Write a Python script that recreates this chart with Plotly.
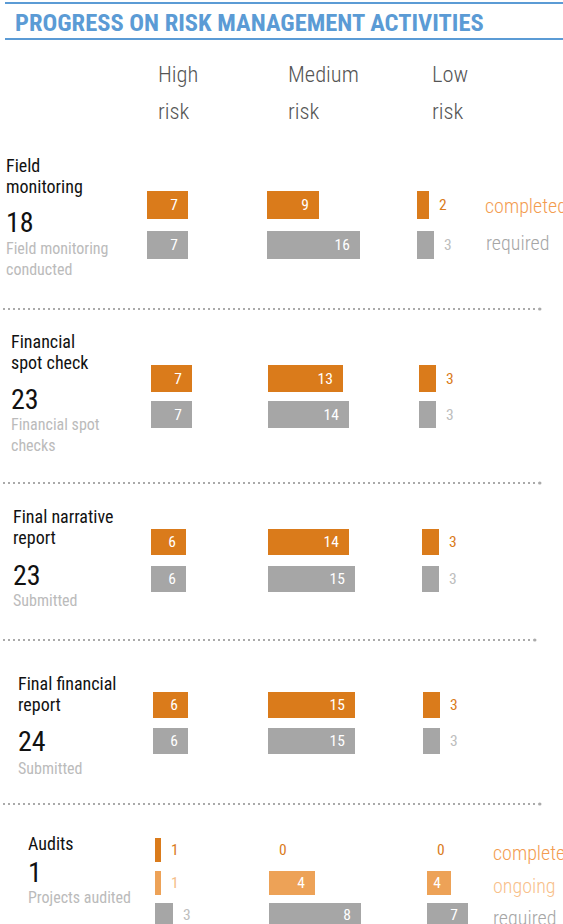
import plotly.graph_objects as go

W, H = 563, 924

# ---- data ----
ACTIVITIES = ["Field<br>monitoring", "Financial<br>spot check", "Final narrative<br>report",
              "Final financial<br>report", "Audits"]
TOTALS = [18, 23, 23, 24, 1]
SUBTITLES = ["Field monitoring<br>conducted", "Financial spot<br>checks", "Submitted",
             "Submitted", "Projects audited"]
RISK_HEADERS = ["High<br>risk", "Medium<br>risk", "Low<br>risk"]
COMPLETED = [[7, 9, 2], [7, 13, 3], [6, 14, 3], [6, 15, 3], [1, 0, 0]]
ONGOING = [None, None, None, None, [1, 4, 4]]
REQUIRED = [[7, 16, 3], [7, 14, 3], [6, 15, 3], [6, 15, 3], [3, 8, 7]]

# ---- layout (pixels) ----
ROW_Y = [[205, 245], [378, 414], [541, 578], [705, 741], [850, 883, 915]]
BAR_H = [28, 27, 26, 26, 24]
COL_LEFT = [[147, 267, 417], [151, 268, 419], [151, 268, 422], [153, 268, 423], [155, 269, 427]]
PX_PER_UNIT = [[5.8, 5.8, 5.8]] * 4 + [[6.0, 11.5, 5.9]]
LABEL_X = [4, 9, 11, 16, 26]
TITLE_Y = [165, 341, 516, 683, 843]
NUM_Y = [222, 399, 575, 741, 872]
SUB_Y = [249, 425, 600, 768, 897]
SEP_Y = [309, 483, 640, 804]
SEP_END = [540, 540, 535, 540]

FONT = "Roboto Condensed, Liberation Sans Narrow, Roboto, sans-serif"
ORANGE = "#DA7B1B"
LIGHT_ORANGE = "#EDA257"
GREY = "#A6A6A6"
BLUE = "#5B9BD5"
NB = "\u00a0"


def px(x):
    return x / W


def py(y):
    return 1 - y / H


fig = go.Figure()
annotations = []
shapes = []


def note(text, x, y, size, color, weight=400, anchor="left"):
    annotations.append(dict(
        text=text, x=px(x), y=py(y), xref="paper", yref="paper",
        xanchor=anchor, yanchor="middle", showarrow=False,
        font=dict(family=FONT, size=size, color=color, weight=weight),
    ))


# title + blue rules
note("PROGRESS ON RISK MANAGEMENT ACTIVITIES", 13, 23, 24.5, BLUE, weight=700)
for yy in (3, 39):
    shapes.append(dict(type="line", xref="paper", yref="paper",
                       x0=px(5), x1=1, y0=py(yy), y1=py(yy),
                       line=dict(color=BLUE, width=2)))

# column headers
for hdr, x in zip(RISK_HEADERS, [156, 286, 430]):
    for i, line in enumerate(hdr.split("<br>")):
        note(line, x, 74 + 37 * i, 22.5, "#555555", weight=300)

layout_axes = {}
ax = 0
for s in range(5):
    rows = ["completed", "required"] if ONGOING[s] is None else ["completed", "ongoing", "required"]
    series = [COMPLETED[s], REQUIRED[s]] if ONGOING[s] is None else [COMPLETED[s], ONGOING[s], REQUIRED[s]]
    colors = [ORANGE, GREY] if ONGOING[s] is None else [ORANGE, LIGHT_ORANGE, GREY]
    out_colors = [ORANGE, "#BDBDBD"] if ONGOING[s] is None else [ORANGE, "#F5BE8A", "#BDBDBD"]

    spacing = (ROW_Y[s][-1] - ROW_Y[s][0]) / (len(rows) - 1)
    top = ROW_Y[s][0] - spacing / 2
    bot = min(ROW_Y[s][-1] + spacing / 2, H)
    r_top = (top - ROW_Y[s][0]) / spacing
    r_bot = (bot - ROW_Y[s][0]) / spacing
    yname = f"yaxis{s + 1}" if s else "yaxis"
    layout_axes[yname] = dict(domain=[py(bot), py(top)], range=[r_bot, r_top],
                              type="category", categoryarray=rows, visible=False,
                              anchor=f"x{ax + 1}" if ax else "x")

    for c in range(3):
        ax += 1
        scale = PX_PER_UNIT[s][c]
        span = 20 if scale < 8 else 10
        left = COL_LEFT[s][c]
        xname = f"xaxis{ax}" if ax > 1 else "xaxis"
        layout_axes[xname] = dict(domain=[px(left), px(left + span * scale)], range=[0, span],
                                  visible=False, anchor=f"y{s + 1}" if s else "y")
        vals = [ser[c] for ser in series]
        texts, pos, tcol = [], [], []
        for v, oc in zip(vals, out_colors):
            if v * scale >= 20:
                texts.append(f"{v}{NB}{NB}")
                pos.append("inside")
                tcol.append("white")
            else:
                texts.append(f"{NB}{NB}{v}")
                pos.append("outside")
                tcol.append(oc)
        fig.add_trace(go.Bar(
            x=vals, y=rows, orientation="h",
            xaxis=f"x{ax}" if ax > 1 else "x", yaxis=f"y{s + 1}" if s else "y",
            marker=dict(color=colors, line=dict(width=0)),
            width=BAR_H[s] / spacing,
            text=texts, textposition=pos, insidetextanchor="end",
            textfont=dict(family=FONT, size=15.5, color=tcol),
            cliponaxis=False, showlegend=False, hoverinfo="skip",
        ))

    # left labels
    x0 = LABEL_X[s]
    for i, line in enumerate(ACTIVITIES[s].split("<br>")):
        note(line, x0, TITLE_Y[s] + 21 * i, 18, "#111111")
    note(str(TOTALS[s]), x0, NUM_Y[s], 28, "#111111")
    for i, line in enumerate(SUBTITLES[s].split("<br>")):
        note(line, x0, SUB_Y[s] + 20 * i, 16, "#BBBBBB")

# right legends
note("completed", 483, 206, 20, "#F39C50", weight=300)
note("required", 484, 243, 20, GREY, weight=300)
note("completed", 491, 853, 20, "#F39C50", weight=300)
note("ongoing", 491, 886, 20, "#F8C08A", weight=300)
note("required", 491, 918, 20, GREY, weight=300)

# dotted separators
for yy, xe in zip(SEP_Y, SEP_END):
    shapes.append(dict(type="line", xref="paper", yref="paper",
                       x0=px(3), x1=px(xe - 4), y0=py(yy), y1=py(yy),
                       line=dict(color="#AAAAAA", width=2, dash="2px,3px")))
    shapes.append(dict(type="circle", xref="paper", yref="paper",
                       x0=px(xe - 2), x1=px(xe + 1.5), y0=py(yy + 1.5), y1=py(yy - 1.5),
                       fillcolor="#AAAAAA", line=dict(width=0)))

fig.update_layout(
    width=W, height=H,
    margin=dict(l=0, r=0, t=0, b=0),
    paper_bgcolor="white", plot_bgcolor="rgba(0,0,0,0)",
    barmode="overlay", bargap=0,
    annotations=annotations, shapes=shapes,
    **layout_axes,
)

fig.write_html("out.html", config={"displayModeBar": False},
               post_script="document.body.style.margin='0';document.body.style.overflow='hidden';")
